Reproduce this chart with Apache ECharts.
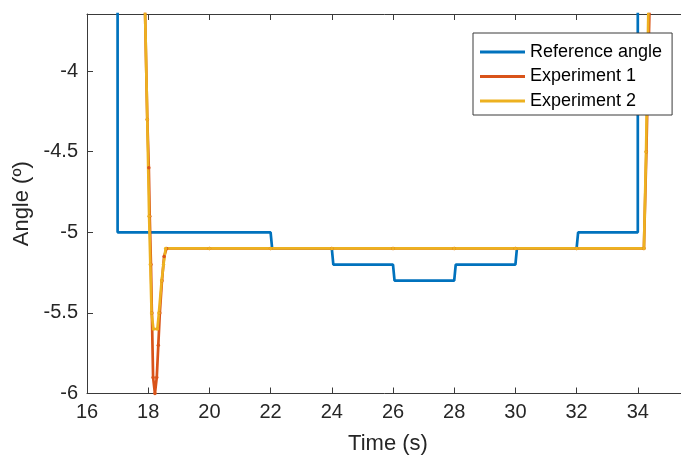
<!DOCTYPE html>
<html>
<head>
<meta charset="utf-8">
<script src="https://cdn.jsdelivr.net/npm/echarts@6/dist/echarts.min.js"></script>
<style>
html,body{margin:0;padding:0;background:#fff;}
#chart{width:681px;height:457px;}
</style>
</head>
<body>
<div id="chart"></div>
<script>
// ---- data ----
const seriesNames = ['Reference angle', 'Experiment 1', 'Experiment 2'];
const xTicks = [16, 18, 20, 22, 24, 26, 28, 30, 32, 34];
const yTicks = [-6, -5.5, -5, -4.5, -4];

const refTime  = [16, 17, 17, 22, 22.05, 24, 24.05, 26, 26.05, 28, 28.05, 30, 30.05, 32, 32.05, 34, 34, 36];
const refAngle = [-3, -3, -5, -5, -5.1, -5.1, -5.2, -5.2, -5.3, -5.3, -5.2, -5.2, -5.1, -5.1, -5, -5, -3, -3];

const exp1Time  = [17.85, 17.97, 18.02, 18.05, 18.09, 18.12, 18.16, 18.22, 18.28, 18.33, 18.38, 18.45, 18.52, 18.6, 20, 22, 24, 26, 28, 30, 32, 34.2, 34.28, 34.36, 34.46];
const exp1Angle = [-3.2, -4.3, -4.6, -4.9, -5.2, -5.5, -5.9, -6.0, -5.9, -5.7, -5.5, -5.3, -5.15, -5.1, -5.1, -5.1, -5.1, -5.1, -5.1, -5.1, -5.1, -5.1, -4.5, -3.8, -3.0];

const exp2Time  = [17.85, 17.97, 18.03, 18.07, 18.11, 18.17, 18.3, 18.35, 18.44, 18.5, 18.57, 20, 22, 24, 26, 28, 30, 32, 34.2, 34.27, 34.33, 34.4];
const exp2Angle = [-3.2, -4.3, -4.9, -5.2, -5.5, -5.6, -5.6, -5.5, -5.3, -5.2, -5.1, -5.1, -5.1, -5.1, -5.1, -5.1, -5.1, -5.1, -5.1, -4.5, -3.8, -3.0];

// ---- chart ----
const pairs = (xs, ys) => xs.map((x, i) => [x, ys[i]]);
const FONT = '"Liberation Sans", Arial, Helvetica, sans-serif';
const AX = '#262626';
const chart = echarts.init(document.getElementById('chart'), null, {renderer: 'canvas'});

const xAxisCommon = {
  type: 'value', min: 16, max: 36, interval: 2,
  axisLine: {show: true, onZero: false, lineStyle: {color: '#3a3a3a', width: 1}},
  axisTick: {show: true, inside: true, length: 6, lineStyle: {color: '#3a3a3a'}},
  splitLine: {show: false}
};

chart.setOption({
  animation: false,
  backgroundColor: '#fff',
  grid: {left: 87, width: 612, top: 14, height: 379.5, containLabel: false, outerBoundsMode: 'none'},
  xAxis: [
    Object.assign({}, xAxisCommon, {
      position: 'bottom',
      name: 'Time (s)', nameLocation: 'middle', nameGap: 39,
      nameTextStyle: {fontFamily: FONT, fontSize: 22, color: AX, padding: [0, 10, 0, 0]},
      axisLabel: {show: true, margin: 9, fontFamily: FONT, fontSize: 20, color: AX,
        showMaxLabel: false,
        formatter: v => xTicks.includes(v) ? String(v) : ''}
    }),
    Object.assign({}, xAxisCommon, {position: 'top', axisLabel: {show: false}})
  ],
  yAxis: [{
    type: 'value', min: -6, max: -3.646, interval: 0.5,
    name: 'Angle (º)', nameLocation: 'middle', nameGap: 44,
    nameTextStyle: {fontFamily: FONT, fontSize: 22, color: AX},
    axisLine: {show: true, onZero: false, lineStyle: {color: '#3a3a3a', width: 1}},
    axisTick: {show: true, inside: true, length: 6, lineStyle: {color: '#3a3a3a'}},
    axisLabel: {margin: 9, fontFamily: FONT, fontSize: 20, color: AX, showMaxLabel: false,
      formatter: v => yTicks.includes(v) ? String(v) : ''},
    splitLine: {show: false}
  }],
  legend: {
    orient: 'vertical', left: 473, top: 33,
    data: seriesNames.map(n => ({name: n, icon: 'rect'})),
    itemWidth: 45, itemHeight: 3, itemGap: 6.5,
    padding: [10, 10, 5, 7],
    backgroundColor: '#fff', borderColor: '#3a3a3a', borderWidth: 1, borderRadius: 0,
    textStyle: {fontFamily: FONT, fontSize: 18, color: '#000', lineHeight: 18}
  },
  series: [
    {name: seriesNames[0], type: 'line', data: pairs(refTime, refAngle),
     showSymbol: false, symbol: 'none', clip: true,
     lineStyle: {color: '#0072BD', width: 2.7}, itemStyle: {color: '#0072BD'}},
    {name: seriesNames[1], type: 'line', data: pairs(exp1Time, exp1Angle),
     symbol: 'circle', symbolSize: 3.5, clip: true,
     lineStyle: {color: '#D95319', width: 2.7}, itemStyle: {color: '#D95319'}},
    {name: seriesNames[2], type: 'line', data: pairs(exp2Time, exp2Angle),
     symbol: 'circle', symbolSize: 3.5, clip: true,
     lineStyle: {color: '#EDB120', width: 2.7}, itemStyle: {color: '#EDB120'}}
  ]
});
</script>
</body>
</html>
